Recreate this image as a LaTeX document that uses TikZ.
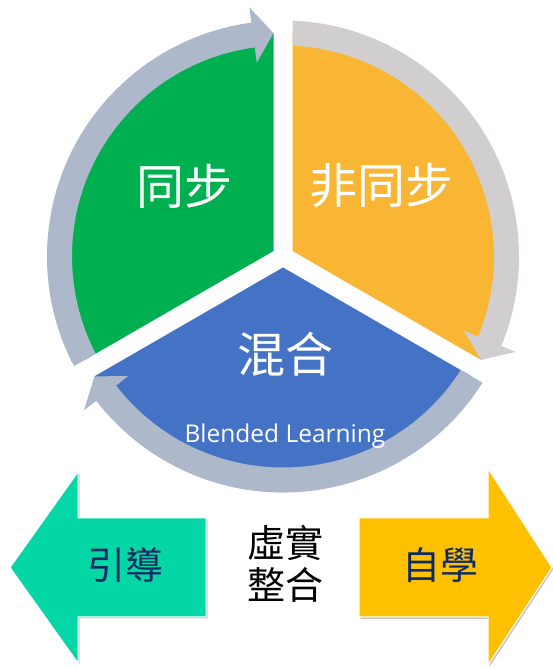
\documentclass[tikz,border=0pt]{standalone}
\usepackage{fontspec}
\setmainfont{Open Sans}
\newfontfamily\cjk{Noto Sans CJK TC}
\definecolor{cgreen}{HTML}{00B050}
\definecolor{corange}{HTML}{F9B634}
\definecolor{cblue}{HTML}{4472C4}
\definecolor{ringA}{HTML}{ADB9CA}
\definecolor{ringB}{HTML}{D0CECE}
\definecolor{cteal}{HTML}{05D6A6}
\definecolor{cyell}{HTML}{FFC000}
\definecolor{navy}{HTML}{0E2A63}
% #1 colour, #2 start angle, #3 head base angle, #4 tip angle
\newcommand\ringarrow[4]{%
  \fill[#1] (#2:236pt) arc[start angle=#2, end angle=#3, radius=236pt]
    -- (#3:251.5pt) -- (#4:223.5pt) -- (#3:195.5pt) -- (#3:211pt)
    arc[start angle=#3, end angle=#2, radius=211pt] -- cycle;}
\tikzset{
  bigcjk/.style={text=white, font=\cjk\fontsize{48}{52}\selectfont, inner sep=0pt},
  midcjk/.style={font=\cjk\fontsize{38}{41.5}\selectfont, inner sep=0pt},
  bigarrow/.style={draw=white, line width=1pt},
  arrowshadow/.style={fill=black, opacity=0.22}
}
\begin{document}
\begin{tikzpicture}[x=1pt,y=1pt]
\useasboundingbox (0,0) rectangle (553,668);
\begin{scope}[shift={(283,411.5)}]
  % green sector
  \begin{scope}
    \clip (-9.5,5.485) -- +(90:500pt) -- +(150:700pt) -- +(210:500pt) -- cycle;
    \fill[cgreen] (0,0) circle[radius=223.5pt];
    \ringarrow{ringA}{215}{97.7}{92.44}
  \end{scope}
  % orange sector
  \begin{scope}
    \clip (9.5,5.485) -- +(90:500pt) -- +(30:700pt) -- +(-30:500pt) -- cycle;
    \fill[corange] (0,0) circle[radius=223.5pt];
    \ringarrow{ringB}{95}{-22.3}{-27.56}
  \end{scope}
  % blue sector
  \begin{scope}
    \clip (0,-10.97) -- +(210:500pt) -- +(270:700pt) -- +(330:500pt) -- cycle;
    \fill[cblue] (0,0) circle[radius=223.5pt];
    \ringarrow{ringA}{-25}{-142.3}{-147.56}
  \end{scope}
\end{scope}
\node[bigcjk] (sync) at (184,482) {同步};
\node[bigcjk] (async) at (381.5,482) {非同步};
\node[bigcjk] (blend) at (285,313.5) {混合};
\node[text=white, font=\fontsize{24.5}{28}\selectfont, inner sep=0pt, anchor=base] (bl) at (285,225) {Blended Learning};
% bottom arrows
\fill[arrowshadow] ([shift={(1.5,-1.5)}]10,100.5) -- ++(68,95.5) -- ++(0,-46) -- ++(128,0) -- ++(0,-99) -- ++(-128,0) -- ++(0,-46) -- cycle;
\fill[bigarrow, fill=cteal] (10,100.5) -- (78,196) -- (78,150) -- (206,150) -- (206,51) -- (78,51) -- (78,5) -- cycle;
\fill[arrowshadow] ([shift={(1.5,-1.5)}]552,100.5) -- ++(-64,99) -- ++(0,-50) -- ++(-129,0) -- ++(0,-99) -- ++(129,0) -- ++(0,-48) -- cycle;
\fill[bigarrow, fill=cyell] (552,100.5) -- (488,199.5) -- (488,150) -- (359,150) -- (359,51) -- (488,51) -- (488,3) -- cycle;
\node[midcjk, text=navy] (guide) at (125,103) {引導};
\node[midcjk, text=navy] (self) at (440.5,103) {自學};
\node[midcjk, text=black, align=center] (mix) at (285,104) {虛實\\整合};
\end{tikzpicture}
\end{document}
